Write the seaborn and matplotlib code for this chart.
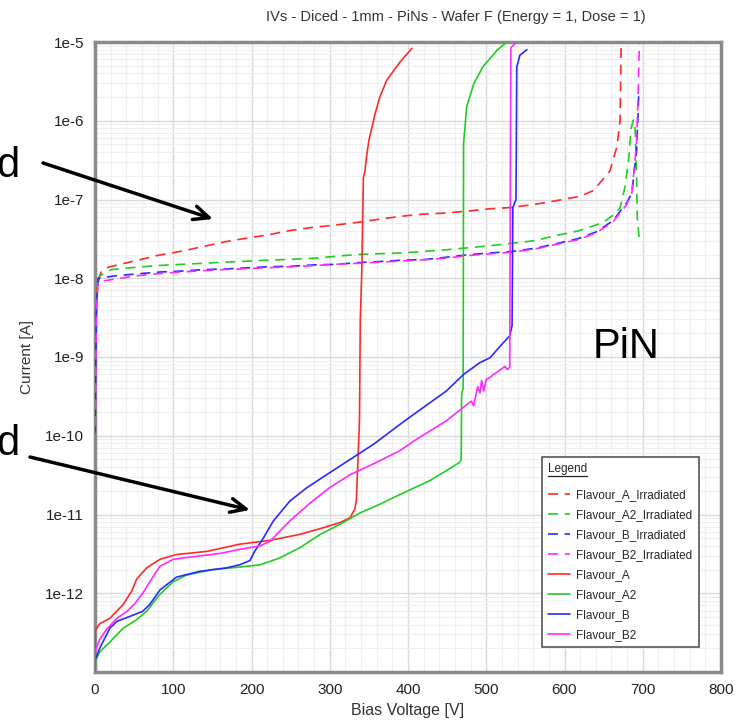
import numpy as np
import pandas as pd
import matplotlib
matplotlib.use('Agg')
import matplotlib.pyplot as plt
import seaborn as sns
from matplotlib.lines import Line2D
from matplotlib.ticker import FixedLocator, NullFormatter, MultipleLocator

# ---------------- data ----------------
title = "IVs - Diced - 1mm - PiNs - Wafer F (Energy = 1, Dose = 1)"
x_label = "Bias Voltage [V]"
y_label = "Current [A]"
series_names = ["Flavour_A_Irradiated", "Flavour_A2_Irradiated", "Flavour_B_Irradiated",
                "Flavour_B2_Irradiated", "Flavour_A", "Flavour_A2", "Flavour_B", "Flavour_B2"]

a_irr_v = [0, 1, 3, 8, 17, 55, 80, 110, 136, 166, 191, 221, 247, 276, 304, 334, 362, 390, 418,
           445, 475, 503, 530, 560, 588, 620, 637, 658, 667, 671, 672, 672.5]
a_irr_i = [5e-10, 3e-9, 9e-9, 1.2e-8, 1.38e-8, 1.7e-8, 1.95e-8, 2.2e-8, 2.5e-8, 2.9e-8, 3.2e-8,
           3.55e-8, 4.0e-8, 4.4e-8, 4.7e-8, 5.1e-8, 5.6e-8, 6.1e-8, 6.5e-8, 6.7e-8, 7.1e-8, 7.6e-8,
           7.9e-8, 8.6e-8, 9.6e-8, 1.1e-7, 1.3e-7, 2.3e-7, 4.7e-7, 1.0e-6, 5e-6, 1.3e-5]

a2_irr_v = [0, 1, 3, 6, 21, 53, 80, 110, 138, 166, 196, 223, 251, 281, 308, 334, 364, 394, 422,
            449, 479, 507, 535, 562, 590, 618, 639, 649, 662, 671, 677, 682, 685, 688, 690, 692,
            693, 696]
a2_irr_i = [3e-10, 2e-9, 7e-9, 1.07e-8, 1.29e-8, 1.38e-8, 1.45e-8, 1.5e-8, 1.55e-8, 1.6e-8,
            1.65e-8, 1.7e-8, 1.74e-8, 1.8e-8, 1.9e-8, 2.0e-8, 2.05e-8, 2.1e-8, 2.2e-8, 2.3e-8,
            2.45e-8, 2.6e-8, 2.8e-8, 3.0e-8, 3.5e-8, 4.0e-8, 4.7e-8, 5.1e-8, 6.3e-8, 7.8e-8,
            1.4e-7, 3.2e-7, 7.9e-7, 1.02e-6, 9.3e-7, 2.3e-7, 6e-8, 2.75e-8]

b_irr_v = [0, 1, 2, 4, 25, 55, 83, 115, 140, 166, 191, 221, 251, 281, 306, 337, 364, 394, 422,
           449, 479, 507, 535, 562, 590, 618, 641, 662, 679, 686, 692, 694, 695]
b_irr_i = [1e-10, 1e-9, 5e-9, 1e-8, 1.07e-8, 1.14e-8, 1.2e-8, 1.24e-8, 1.29e-8, 1.31e-8, 1.35e-8,
           1.4e-8, 1.42e-8, 1.48e-8, 1.5e-8, 1.58e-8, 1.63e-8, 1.7e-8, 1.73e-8, 1.85e-8, 2.0e-8,
           2.1e-8, 2.2e-8, 2.4e-8, 2.75e-8, 3.2e-8, 3.9e-8, 5.4e-8, 8.9e-8, 1.2e-7, 4e-7, 1.2e-6,
           2.5e-6]

b2_irr_v = [0, 1, 2, 4, 21, 51, 80, 110, 140, 166, 191, 221, 251, 281, 306, 337, 364, 394, 422,
            449, 479, 507, 535, 562, 590, 618, 641, 662, 679, 686, 692, 694, 695, 696]
b2_irr_i = [5e-11, 8e-10, 4e-9, 9e-9, 9.6e-9, 1.07e-8, 1.14e-8, 1.2e-8, 1.25e-8, 1.29e-8,
            1.32e-8, 1.36e-8, 1.4e-8, 1.45e-8, 1.5e-8, 1.55e-8, 1.6e-8, 1.66e-8, 1.72e-8, 1.8e-8,
            1.95e-8, 2.05e-8, 2.15e-8, 2.35e-8, 2.7e-8, 3.1e-8, 3.8e-8, 5.2e-8, 8.5e-8, 1.2e-7,
            5e-7, 2e-6, 5e-6, 1.3e-5]

a_v = [0, 0, 6, 19, 36, 47, 53, 66, 83, 104, 143, 185, 224, 262, 292, 313, 326, 332, 334, 335,
       336.5, 338, 339, 341, 343, 345, 347, 350, 354, 358, 364, 373, 390, 405]
a_i = [1e-13, 3.3e-13, 4.1e-13, 4.8e-13, 7.2e-13, 1.07e-12, 1.5e-12, 2.1e-12, 2.7e-12, 3.1e-12,
       3.4e-12, 4.2e-12, 4.7e-12, 5.6e-12, 6.8e-12, 7.9e-12, 9.1e-12, 1.17e-11, 1.5e-11, 2.7e-11,
       6.5e-11, 1.55e-10, 2.9e-9, 1.26e-8, 1.9e-7, 2.3e-7, 3.5e-7, 5.6e-7, 8.3e-7, 1.23e-6, 2e-6,
       3.3e-6, 5.6e-6, 8.3e-6]

a2_v = [0, 0, 6, 19, 36, 53, 66, 83, 100, 117, 151, 185, 211, 236, 262, 288, 313, 339, 364, 390,
        428, 449, 466, 468, 468.5, 470.5, 471, 475, 484, 496, 514, 530]
a2_i = [1e-13, 1.35e-13, 1.8e-13, 2.4e-13, 3.6e-13, 4.6e-13, 5.9e-13, 9.7e-13, 1.4e-12, 1.7e-12,
        2.0e-12, 2.15e-12, 2.3e-12, 2.8e-12, 3.8e-12, 5.6e-12, 7.5e-12, 1.05e-11, 1.35e-11,
        1.8e-11, 2.7e-11, 3.6e-11, 4.6e-11, 5e-11, 3.4e-10, 4e-10, 5.1e-7, 1.5e-6, 2.95e-6,
        4.9e-6, 7.9e-6, 1.07e-5]

b_v = [0, 0, 6, 19, 28, 45, 61, 70, 83, 104, 134, 168, 185, 198, 204, 215, 228, 249, 271, 296,
       326, 356, 390, 407, 449, 471, 492, 505, 518, 530, 533, 534, 538, 539, 543, 552]
b_i = [1e-13, 1.4e-13, 2e-13, 3.6e-13, 4.4e-13, 5.1e-13, 5.9e-13, 7.2e-13, 1.1e-12, 1.6e-12,
       1.9e-12, 2.1e-12, 2.3e-12, 2.6e-12, 3.4e-12, 5e-12, 8.3e-12, 1.48e-11, 2.2e-11, 3.2e-11,
       5e-11, 7.8e-11, 1.4e-10, 1.86e-10, 3.7e-10, 6e-10, 8.5e-10, 9.8e-10, 1.38e-9, 1.86e-9,
       2.5e-9, 7.9e-8, 1e-7, 4.8e-6, 6.8e-6, 8e-6]

b2_v = [0, 0, 6, 15, 28, 41, 51, 61, 73, 83, 100, 130, 160, 181, 211, 224, 249, 275, 300, 326,
        356, 390, 407, 449, 471, 481, 484, 489, 492, 494, 497, 500, 505, 509, 513, 517, 520, 524,
        527, 530, 531, 531.5, 540]
b2_i = [1e-13, 1.8e-13, 2.6e-13, 3.5e-13, 4.8e-13, 5.9e-13, 7.4e-13, 1e-12, 1.55e-12, 2.2e-12,
        2.7e-12, 2.95e-12, 3.2e-12, 3.55e-12, 4e-12, 4.6e-12, 8.3e-12, 1.4e-11, 2.2e-11, 3.2e-11,
        4.4e-11, 6.5e-11, 8.5e-11, 1.55e-10, 2.3e-10, 2.75e-10, 2.4e-10, 4.2e-10, 3.5e-10,
        5e-10, 3.7e-10, 5.2e-10, 5.5e-10, 6e-10, 6.3e-10, 6.8e-10, 7.1e-10, 7.6e-10, 6.9e-10,
        7.4e-10, 1e-6, 8.5e-6, 1.02e-5]

y_tick_vals = [1e-12, 1e-11, 1e-10, 1e-9, 1e-8, 1e-7, 1e-6, 1e-5]
y_tick_labels = ["1e-12", "1e-11", "1e-10", "1e-9", "1e-8", "1e-7", "1e-6", "1e-5"]
x_tick_vals = [0, 100, 200, 300, 400, 500, 600, 700, 800]
x_tick_labels = ["0", "100", "200", "300", "400", "500", "600", "700", "800"]

colors = ["#ff2a2a", "#22cc22", "#2a2aff", "#ff2aff"]

# ---------------- figure ----------------
sns.set_style("white")
plt.rcParams['font.family'] = ['Liberation Sans', 'DejaVu Sans']

W, H = 750, 728
fig = plt.figure(figsize=(W / 100, H / 100), dpi=100)
ax = fig.add_axes([95 / W, 1 - 672 / H, 626 / W, 630 / H])

all_series = [
    (series_names[0], a_irr_v, a_irr_i, colors[0], (0, (6, 4))),
    (series_names[1], a2_irr_v, a2_irr_i, colors[1], (0, (6, 4))),
    (series_names[2], b_irr_v, b_irr_i, colors[2], (0, (6, 4))),
    (series_names[3], b2_irr_v, b2_irr_i, colors[3], (0, (6, 4))),
    (series_names[4], a_v, a_i, colors[0], '-'),
    (series_names[5], a2_v, a2_i, colors[1], '-'),
    (series_names[6], b_v, b_i, colors[2], '-'),
    (series_names[7], b2_v, b2_i, colors[3], '-'),
]
for name, v, i, c, ls in all_series:
    df = pd.DataFrame({'V': v, 'I': i})
    sns.lineplot(data=df, x='V', y='I', ax=ax, color=c, linestyle=ls, linewidth=1.2,
                 label=name, sort=False, estimator=None, zorder=3)

ax.set_yscale('log')
ax.set_xlim(0, 800)
ax.set_ylim(1e-13, 1e-5)

ax.set_xticks(x_tick_vals)
ax.set_xticklabels(x_tick_labels)
ax.xaxis.set_minor_locator(MultipleLocator(20))
ax.set_yticks(y_tick_vals)
ax.set_yticklabels(y_tick_labels)
minor = [k * 10.0 ** e for e in range(-13, -5) for k in range(2, 10)]
ax.yaxis.set_minor_locator(FixedLocator(minor))
ax.yaxis.set_minor_formatter(NullFormatter())

ax.tick_params(which='major', direction='inout', length=12, width=1.4, color='#333333',
               labelsize=11, labelcolor='#222222', pad=2)
ax.tick_params(which='minor', direction='inout', length=8, width=1.2, color='#333333')

ax.grid(True, which='major', color='#d9d9d9', linewidth=1.0)
ax.grid(True, which='minor', color='#efefef', linewidth=0.8)
ax.set_axisbelow(True)
for s in ax.spines.values():
    s.set_visible(True)
    s.set_color('#8a8a8a')
    s.set_linewidth(2.5)

ax.set_xlabel(x_label, fontsize=11.5, color='#333333', labelpad=4)
ax.set_ylabel(y_label, fontsize=11, color='#333333', labelpad=8)

fig.text(456 / W, 1 - 17 / H, title, ha='center', va='center', fontsize=10.5, color='#333333')

# legend
handles, labels = ax.get_legend_handles_labels()
leg = ax.legend(handles, labels, title='Legend', alignment='left', loc='upper right',
                bbox_to_anchor=((699 - 95) / 626, (672 - 457) / 630), borderaxespad=0,
                fontsize=8.5, title_fontsize=8.5, frameon=True, fancybox=False,
                framealpha=1, edgecolor='#555555', handlelength=1.9, handletextpad=0.5,
                labelspacing=0.68, borderpad=0.55)
leg.get_frame().set_linewidth(1.2)
leg.set_zorder(10)
# extra gap between the legend title and the entries
leg._legend_box.sep = 9.5

# slide annotations
fig.text(19 / W, 1 - 166 / H, 'd', ha='right', va='center', fontsize=30, color='black')
fig.text(19 / W, 1 - 444 / H, 'd', ha='right', va='center', fontsize=30, color='black')
fig.text(593 / W, 1 - 358 / H, 'PiN', ha='left', va='baseline', fontsize=30, color='black')
arrow_kw = dict(arrowstyle='->,head_length=1.1,head_width=0.5', lw=2.5, color='black',
                shrinkA=0, shrinkB=0)
ax.annotate('', xy=(213, H - 219), xycoords='figure pixels', xytext=(43, H - 163),
            textcoords='figure pixels', arrowprops=arrow_kw, annotation_clip=False, zorder=20)
ax.annotate('', xy=(250, H - 510), xycoords='figure pixels', xytext=(30, H - 457),
            textcoords='figure pixels', arrowprops=arrow_kw, annotation_clip=False, zorder=20)

# underline legend title
fig.canvas.draw()
bb = leg.get_title().get_window_extent()
inv = fig.transFigure.inverted()
(x0, y0) = inv.transform((bb.x0, bb.y0 - 1))
(x1, _) = inv.transform((bb.x1, bb.y0 - 1))
fig.add_artist(Line2D([x0, x1], [y0, y0], transform=fig.transFigure, color='#222222', lw=0.9,
                      zorder=30))

fig.savefig('out.png', dpi=100)
